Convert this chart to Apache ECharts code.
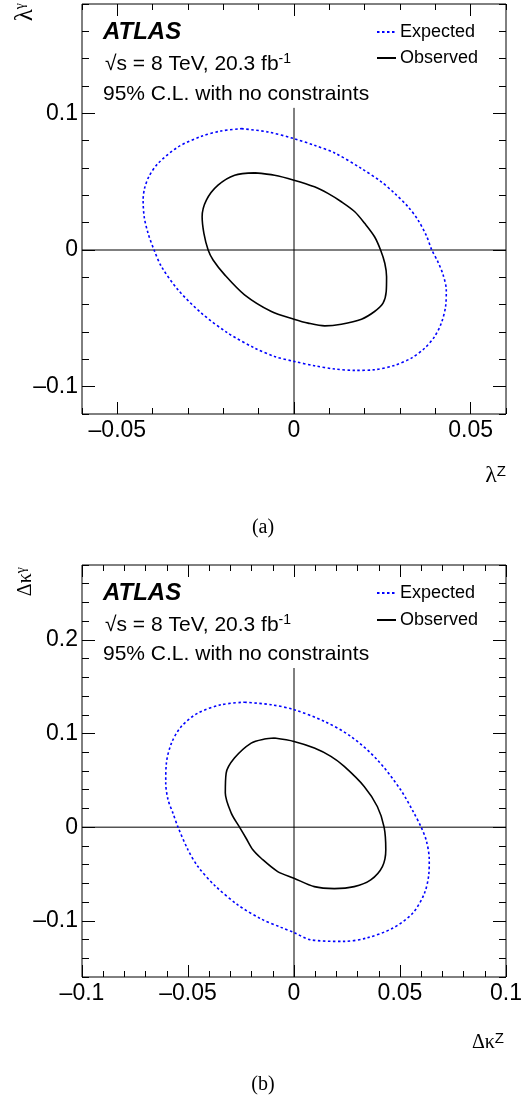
<!DOCTYPE html>
<html><head><meta charset="utf-8">
<script src="https://cdn.jsdelivr.net/npm/echarts@6/dist/echarts.min.js"></script>
<style>html,body{margin:0;padding:0;background:#fff}#c{width:527px;height:1102px}</style>
</head><body><div id="c"></div>
<script>
// ---------- Panel (a): lambda^gamma vs lambda^Z ----------
const expectedA = [[-0.0149,0.0888],[-0.0074,0.0864],[0,0.0815],[0.0058,0.0766],[0.0115,0.071],[0.0191,0.0596],[0.0247,0.0499],[0.0285,0.0414],[0.0323,0.0316],[0.0351,0.0219],[0.0374,0.0109],[0.039,0],[0.0407,-0.0085],[0.0422,-0.0182],[0.0431,-0.0292],[0.0429,-0.0414],[0.0417,-0.0535],[0.0398,-0.0633],[0.037,-0.0718],[0.0332,-0.0791],[0.0285,-0.0844],[0.0228,-0.0876],[0.0172,-0.0881],[0.0115,-0.0871],[0.0058,-0.0847],[0,-0.0815],[-0.0055,-0.0779],[-0.0111,-0.0718],[-0.0187,-0.0608],[-0.0262,-0.0462],[-0.0328,-0.0292],[-0.0375,-0.0122],[-0.0396,0],[-0.0413,0.0122],[-0.0424,0.0243],[-0.0427,0.0365],[-0.0423,0.045],[-0.0411,0.0535],[-0.0385,0.0633],[-0.0328,0.0754],[-0.0262,0.0832],[-0.0206,0.0871]];
const observedA = [[-0.0111,0.0564],[-0.0055,0.0547],[0,0.0511],[0.0058,0.0462],[0.0096,0.0414],[0.0134,0.0353],[0.0172,0.028],[0.02,0.0195],[0.0228,0.0097],[0.0245,0],[0.0257,-0.0097],[0.0262,-0.0195],[0.0261,-0.0304],[0.0252,-0.0389],[0.0228,-0.045],[0.0191,-0.0506],[0.0134,-0.0543],[0.0087,-0.0555],[0.004,-0.0535],[0,-0.0506],[-0.0064,-0.045],[-0.014,-0.0328],[-0.0196,-0.0182],[-0.0229,-0.0073],[-0.0243,0],[-0.0255,0.0122],[-0.026,0.0243],[-0.0248,0.0365],[-0.0215,0.0474],[-0.0168,0.0547]];
const xRangeA = [-0.06, 0.06];
const yRangeA = [-0.12, 0.18];
const xMajorA = [-0.05, 0, 0.05];
const xMinorA = [-0.06,-0.05,-0.04,-0.03,-0.02,-0.01,0,0.01,0.02,0.03,0.04,0.05,0.06];
const yMajorA = [-0.1, 0, 0.1];
const yMinorA = [-0.12,-0.1,-0.08,-0.06,-0.04,-0.02,0,0.02,0.04,0.06,0.08,0.1,0.12,0.14,0.16,0.18];
const hLineA = [[-0.06,0],[0.06,0]];
const vLineA = [[0,-0.12],[0,0.104]];

// ---------- Panel (b): Delta kappa^gamma vs Delta kappa^Z ----------
const expectedB = [[-0.0234,0.1335],[-0.0108,0.1308],[0,0.1255],[0.0143,0.113],[0.0268,0.097],[0.0393,0.072],[0.0503,0.0399],[0.0566,0.015],[0.06,0],[0.0625,-0.015],[0.0638,-0.0346],[0.0636,-0.05],[0.0616,-0.0702],[0.0561,-0.0916],[0.0467,-0.1077],[0.0342,-0.1184],[0.0232,-0.122],[0.0075,-0.1201],[0,-0.1125],[-0.0061,-0.107],[-0.0155,-0.098],[-0.0265,-0.083],[-0.0375,-0.062],[-0.0453,-0.0421],[-0.05,-0.0242],[-0.0547,0],[-0.0571,0.015],[-0.0594,0.0292],[-0.0605,0.0471],[-0.0602,0.0684],[-0.0578,0.0898],[-0.0531,0.1077],[-0.0453,0.1219],[-0.0343,0.1308]];
const observedB = [[-0.0092,0.0952],[0,0.0916],[0.0096,0.0845],[0.0174,0.0756],[0.0237,0.0649],[0.0331,0.0435],[0.0393,0.0221],[0.0425,0],[0.0433,-0.0242],[0.0417,-0.0421],[0.0362,-0.0563],[0.0284,-0.0635],[0.019,-0.0656],[0.0096,-0.0635],[0,-0.0545],[-0.0077,-0.0474],[-0.0155,-0.0332],[-0.0194,-0.0242],[-0.0226,-0.0118],[-0.0257,0],[-0.0296,0.015],[-0.0324,0.0364],[-0.032,0.0578],[-0.0281,0.0738],[-0.0202,0.0898],[-0.0139,0.0941]];
const xRangeB = [-0.1, 0.1];
const yRangeB = [-0.16, 0.28];
const xMajorB = [-0.1, -0.05, 0, 0.05, 0.1];
const xMinorB = [-0.1,-0.09,-0.08,-0.07,-0.06,-0.05,-0.04,-0.03,-0.02,-0.01,0,0.01,0.02,0.03,0.04,0.05,0.06,0.07,0.08,0.09,0.1];
const yMajorB = [-0.1, 0, 0.1, 0.2];
const yMinorB = [-0.16,-0.14,-0.12,-0.1,-0.08,-0.06,-0.04,-0.02,0,0.02,0.04,0.06,0.08,0.1,0.12,0.14,0.16,0.18,0.2,0.22,0.24,0.26,0.28];
const hLineB = [[-0.1,0],[0.1,0]];
const vLineB = [[0,-0.16],[0,0.17]];

const seriesNames = ['Expected', 'Observed'];

// ---------- build ----------
const SANS = '"Liberation Sans", Arial, Helvetica, sans-serif';
const SERIF = '"Liberation Serif", "Times New Roman", serif';
const fmt = v => v === 0 ? '0' : (v < 0 ? '\u2013' : '') + String(Math.abs(+v.toFixed(4)));
const closed = a => a.concat([a[0]]);

function xAx(g, range, major, minor, pos, isMajor, labels) {
  return {type:'value', gridIndex:g, min:range[0], max:range[1], position:pos,
    axisLine:{show:false, onZero:false}, splitLine:{show:false},
    axisTick:{show:true, inside:true, length:isMajor?12:6, customValues:isMajor?major:minor, lineStyle:{color:'#000', width:1}},
    axisLabel:{show:labels, customValues:major, formatter:fmt, margin:5, color:'#000', fontSize:23, fontFamily:SANS}};
}
function yAx(g, range, major, minor, pos, isMajor, labels) {
  return {type:'value', gridIndex:g, min:range[0], max:range[1], position:pos,
    axisLine:{show:false, onZero:false}, splitLine:{show:false},
    axisTick:{show:true, inside:true, length:isMajor?13:7, customValues:isMajor?major:minor, lineStyle:{color:'#000', width:1}},
    axisLabel:{show:labels, customValues:major, formatter:fmt, margin:4, color:'#000', fontSize:23, fontFamily:SANS}};
}
function xSet(g, r, M, m) { return [xAx(g,r,M,m,'bottom',true,true), xAx(g,r,M,m,'bottom',false,false), xAx(g,r,M,m,'top',true,false), xAx(g,r,M,m,'top',false,false)]; }
function ySet(g, r, M, m) { return [yAx(g,r,M,m,'left',true,true), yAx(g,r,M,m,'left',false,false), yAx(g,r,M,m,'right',true,false), yAx(g,r,M,m,'right',false,false)]; }

function panelSeries(ax, exp, obs, hl, vl) {
  const base = {type:'line', xAxisIndex:ax, yAxisIndex:ax, symbol:'none', showSymbol:false, silent:true, animation:false};
  return [
    Object.assign({}, base, {name:'hline', data:hl, lineStyle:{color:'#000', width:1}, z:2}),
    Object.assign({}, base, {name:'vline', data:vl, lineStyle:{color:'#000', width:1}, z:2}),
    Object.assign({}, base, {name:seriesNames[0], data:closed(exp), smooth:0.3, lineStyle:{color:'#0000ff', width:1.6, type:[2.5,2.5]}, itemStyle:{color:'#0000ff'}, z:3}),
    Object.assign({}, base, {name:seriesNames[1], data:closed(obs), smooth:0.3, lineStyle:{color:'#000', width:1.6}, itemStyle:{color:'#000'}, z:3})
  ];
}

function legend(top, gap) {
  return {data:seriesNames, orient:'vertical', left:376, top:top, itemWidth:19, itemHeight:12, itemGap:gap, padding:0,
    selectedMode:false, itemStyle:{color:'rgba(0,0,0,0)', borderWidth:0, opacity:0},
    textStyle:{fontSize:18, fontFamily:SANS, color:'#000', padding:[0,0,0,-1]}};
}

function txt(x, y, text, style) {
  return {type:'text', x:x, y:y, silent:true, style:Object.assign({text:text, fill:'#000', align:'left', verticalAlign:'middle'}, style)};
}

const graphics = [];
[[0, 0], [1, 561]].forEach(([i, off]) => {
  graphics.push(txt(103, 32.5 + off, 'ATLAS', {font:'italic bold 24px ' + SANS}));
  graphics.push(txt(105, 64 + off, '{n|\u221As = 8 TeV, 20.3 fb}{s|-1}', {rich:{n:{fontSize:21, fontFamily:SANS, lineHeight:24, fill:'#000'}, s:{fontSize:14, fontFamily:SANS, lineHeight:14, verticalAlign:'top', fill:'#000'}}}));
  graphics.push(txt(103, 94.5 + off + (i ? -1 : 0), '95% C.L. with no constraints', {font:'21px ' + SANS}));
});
// axis titles
graphics.push(txt(506, 476, '{g|\u03BB}{s|Z}', {align:'right', rich:{g:{fontSize:24, fontFamily:SERIF, lineHeight:24, fill:'#000'}, s:{fontSize:15, fontFamily:SANS, lineHeight:12, verticalAlign:'top', fill:'#000'}}}));
graphics.push(txt(504, 1043, '{g|\u0394\u03BA}{s|Z}', {align:'right', rich:{g:{fontSize:20, fontFamily:SERIF, lineHeight:24, fill:'#000'}, s:{fontSize:15, fontFamily:SANS, lineHeight:12, verticalAlign:'top', fill:'#000'}}}));
graphics.push(Object.assign(txt(25, 3, '{g|\u03BB}{s|\u03B3}', {align:'right', rich:{g:{fontSize:25, fontFamily:SERIF, lineHeight:24, fill:'#000'}, s:{fontSize:14, fontFamily:SERIF, lineHeight:12, verticalAlign:'top', fill:'#000'}}}), {rotation:Math.PI/2}));
graphics.push(Object.assign(txt(26, 567, '{g|\u0394\u03BA}{s|\u03B3}', {align:'right', rich:{g:{fontSize:20, fontFamily:SERIF, lineHeight:24, fill:'#000'}, s:{fontSize:14, fontFamily:SERIF, lineHeight:12, verticalAlign:'top', fill:'#000'}}}), {rotation:Math.PI/2}));
graphics.push(txt(263, 527.5, '(a)', {align:'center', font:'20px ' + SERIF}));
graphics.push(txt(263, 1085, '(b)', {align:'center', font:'20px ' + SERIF}));

const chart = echarts.init(document.getElementById('c'), null, {renderer:'canvas'});
chart.setOption({
  animation:false,
  backgroundColor:'#fff',
  grid:[
    {left:82, top:4, width:424, height:410, show:true, borderColor:'#000', borderWidth:1, backgroundColor:'transparent'},
    {left:82, top:565, width:424, height:412, show:true, borderColor:'#000', borderWidth:1, backgroundColor:'transparent'}
  ],
  xAxis: xSet(0, xRangeA, xMajorA, xMinorA).concat(xSet(1, xRangeB, xMajorB, xMinorB)),
  yAxis: ySet(0, yRangeA, yMajorA, yMinorA).concat(ySet(1, yRangeB, yMajorB, yMinorB)),
  legend:[legend(23, 8), legend(584, 9)],
  series: panelSeries(0, expectedA, observedA, hLineA, vLineA).concat(panelSeries(4, expectedB, observedB, hLineB, vLineB)),
  graphic: graphics
});
</script></body></html>
